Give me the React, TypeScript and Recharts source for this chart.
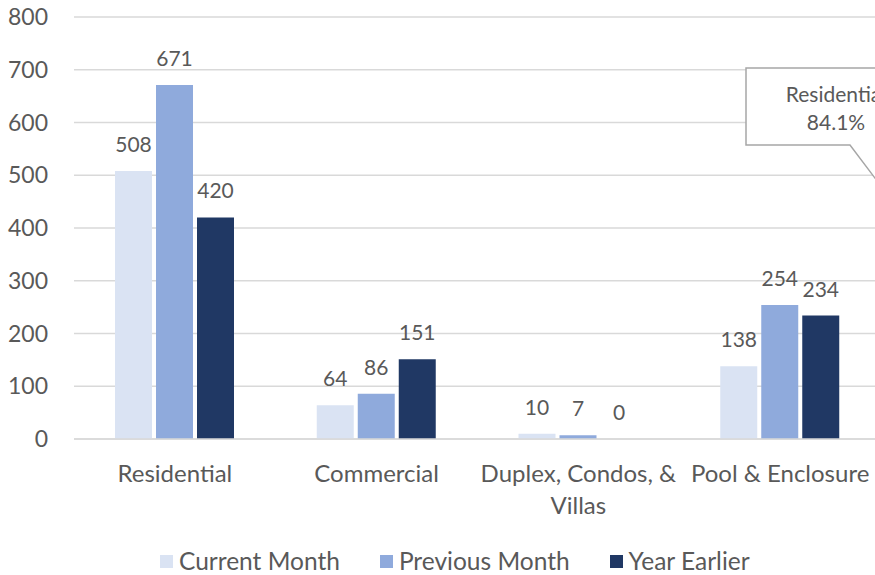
import { BarChart, Bar, XAxis, YAxis, CartesianGrid, LabelList } from 'recharts'

const categories = ['Residential', 'Commercial', 'Duplex, Condos, & Villas', 'Pool & Enclosure']
const currentMonth = [508, 64, 10, 138]
const previousMonth = [671, 86, 7, 254]
const yearEarlier = [420, 151, 0, 234]
const yTicks = [0, 100, 200, 300, 400, 500, 600, 700, 800]
const seriesKeys = ['current', 'previous', 'year']
const seriesNames = ['Current Month', 'Previous Month', 'Year Earlier']
const seriesColors = ['#dae3f3', '#8faadc', '#203864']
const calloutLines = ['Residential', '84.1%']

const FONT = 'Lato, "Open Sans", sans-serif'
const TEXT = '#595959'
const GRID = '#d9d9d9'

const data = categories.map((name, i) => ({
  name,
  current: currentMonth[i],
  previous: previousMonth[i],
  year: yearEarlier[i],
}))

// greedy word wrap, measured with a canvas
let ctx: CanvasRenderingContext2D | null = null
function wrap(label: string, maxWidth: number, font: string) {
  if (!ctx) ctx = document.createElement('canvas').getContext('2d')
  if (!ctx) return [label]
  ctx.font = font
  const lines: string[] = []
  let cur = ''
  for (const w of label.split(' ')) {
    const next = cur ? cur + ' ' + w : w
    if (cur && ctx.measureText(next).width > maxWidth) {
      lines.push(cur)
      cur = w
    } else cur = next
  }
  if (cur) lines.push(cur)
  return lines
}

function CategoryTick(props: any) {
  const { x, y, payload } = props
  const lines = wrap(String(payload.value), 218, `24px ${FONT}`)
  return (
    <text x={x} y={y} textAnchor="middle" fill={TEXT} style={{ fontSize: 24, fontFamily: FONT }}>
      {lines.map((l, i) => (
        <tspan key={i} x={x} dy={i === 0 ? 17 : 32}>{l}</tspan>
      ))}
    </text>
  )
}

function ValueLabel(props: any) {
  const { x, y, width, value } = props
  return (
    <text x={x + width / 2} y={y - 19} textAnchor="middle" fill={TEXT} style={{ fontSize: 21, fontFamily: FONT }}>
      {value}
    </text>
  )
}

export default function App() {
  return (
    <div style={{ position: 'fixed', left: 0, top: 0, width: 875, height: 575, overflow: 'hidden', background: '#fff', fontFamily: FONT }}>
      <BarChart
        width={900}
        height={575}
        data={data}
        margin={{ top: 17, right: 19, left: 0, bottom: 36 }}
        barGap={4}
        barSize={37}
      >
        <CartesianGrid vertical={false} stroke={GRID} strokeWidth={1.5} />
        <XAxis
          dataKey="name"
          height={100}
          interval={0}
          tickLine={false}
          tickSize={0}
          tickMargin={26}
          axisLine={{ stroke: GRID, strokeWidth: 1.5 }}
          tick={<CategoryTick />}
        />
        <YAxis
          width={74}
          domain={[0, 800]}
          ticks={yTicks}
          interval={0}
          axisLine={false}
          tickLine={false}
          tickSize={0}
          tickMargin={26}
          tick={{ fill: TEXT, fontSize: 23, fontFamily: FONT }}
        />
        {seriesKeys.map((key, i) => (
          <Bar
            key={key}
            dataKey={key}
            name={seriesNames[i]}
            fill={seriesColors[i]}
            minPointSize={0.01}
            isAnimationActive={false}
          >
            <LabelList dataKey={key} content={<ValueLabel />} />
          </Bar>
        ))}
      </BarChart>

      {/* callout left over from the pie chart */}
      <svg width={875} height={575} style={{ position: 'absolute', left: 0, top: 0, pointerEvents: 'none' }}>
        <polygon
          points="746,68 935,68 935,145 905,145 890,198 850,145 746,145"
          fill="#fff"
          stroke="#a6a6a6"
          strokeWidth={1.5}
        />
        {calloutLines.map((t, i) => (
          <text key={t} x={836} y={102 + i * 28} textAnchor="middle" fill={TEXT} style={{ fontSize: 21, fontFamily: FONT }}>
            {t}
          </text>
        ))}
      </svg>

      <div style={{ position: 'absolute', left: 160, top: 547, display: 'flex', gap: 40, alignItems: 'center' }}>
        {seriesNames.map((n, i) => (
          <div key={n} style={{ display: 'flex', alignItems: 'center', gap: 6 }}>
            <span style={{ width: 13, height: 13, background: seriesColors[i], display: 'inline-block' }} />
            <span style={{ fontSize: 24.5, color: TEXT, lineHeight: '28px' }}>{n}</span>
          </div>
        ))}
      </div>
    </div>
  )
}
